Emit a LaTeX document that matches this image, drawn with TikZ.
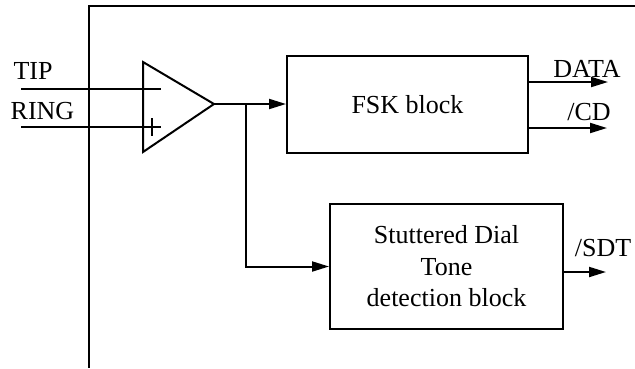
\documentclass[tikz,border=0pt]{standalone}
\usepackage{fontspec}
\setmainfont{Liberation Serif}
\usetikzlibrary{arrows.meta,calc}
\begin{document}
\begin{tikzpicture}[x=1pt,y=-1pt,
  wire/.style={line width=2pt},
  arr/.style={wire,-{Triangle[length=17pt,width=10pt]}},
  blockbox/.style={draw,line width=2pt,inner sep=0pt,align=center,font=\fontsize{26}{31.5}\selectfont},
  lbl/.style={font=\fontsize{26}{31.5}\selectfont,inner sep=0pt,anchor=base}]
\useasboundingbox (0,0) rectangle (635,368);
% outer frame
\coordinate (frameTR) at (635,6);
\coordinate (frameTL) at (89,6);
\coordinate (frameBL) at (89,368);
\draw[wire] (frameTR) -- (frameTL) -- (frameBL);
% amplifier
\coordinate (ampT) at (143,62);
\coordinate (ampB) at (143,152);
\coordinate (ampout) at (214,104);
\draw[wire,line join=miter] (ampT) -- (ampout) -- (ampB) -- cycle;
% inputs
\coordinate (tipS) at (21,89);
\coordinate (tipE) at (161,89);
\coordinate (ringS) at (21,127);
\coordinate (ringE) at (161,127);
\draw[wire] (tipS) -- (tipE);
\draw[wire] (ringS) -- (ringE);
\coordinate (plusT) at (152,118);
\coordinate (plusB) at (152,136);
\draw[wire] (plusT) -- (plusB);
\node[lbl] (tip) at (33,79) {TIP};
\node[lbl] (ring) at (42.5,119) {RING};
% blocks
\node[blockbox,minimum width=241pt,minimum height=97pt] (fsk) at (407.5,104.5) {FSK block};
\node[blockbox,minimum width=233pt,minimum height=125pt] (sdt) at (446.5,266.5) {Stuttered Dial\\Tone\\detection block};
% amplifier output
\coordinate (branch) at (246,104);
\draw[arr] (ampout) -- (ampout -| fsk.west);
\draw[arr] (branch) |- (sdt.west);
% outputs
\coordinate (dataE) at (608,82);
\coordinate (cdE) at (607,128);
\coordinate (sdtE) at (606,272);
\draw[arr] (fsk.east |- dataE) -- (dataE);
\draw[arr] (fsk.east |- cdE) -- (cdE);
\draw[arr] (sdt.east |- sdtE) -- (sdtE);
\node[lbl] (data) at (587,77) {DATA};
\node[lbl] (cd) at (589,120) {/CD};
\node[lbl] (sdtlbl) at (603,256.7) {/SDT};
\end{tikzpicture}
\end{document}
